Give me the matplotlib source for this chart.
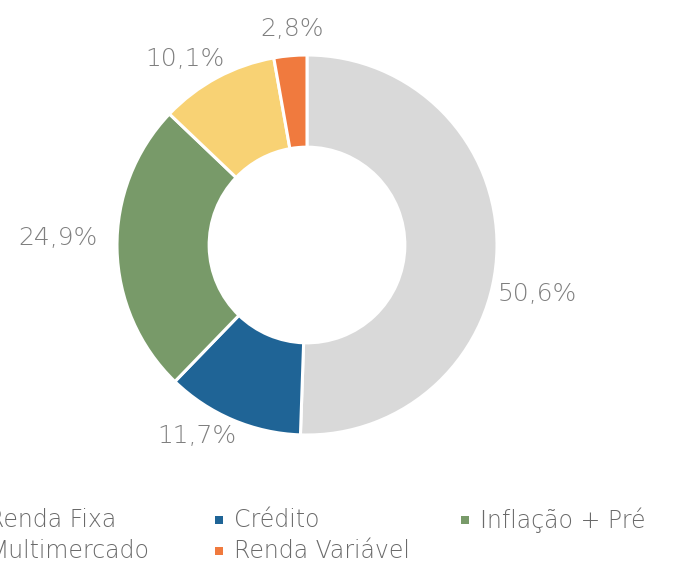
import matplotlib
matplotlib.use("Agg")
import matplotlib.pyplot as plt
from matplotlib.patches import Rectangle
import numpy as np

categories = ["Renda Fixa", "Crédito", "Inflação + Pré", "Multimercado", "Renda Variável"]
values = [50.6, 11.7, 24.9, 10.1, 2.8]
labels = ["50,6%", "11,7%", "24,9%", "10,1%", "2,8%"]
colors = ["#D9D9D9", "#1F6496", "#789A69", "#F8D274", "#F07A3E"]

# label placement (radius in units of outer radius, angle offset in degrees)
label_r = [1.24, 1.16, 1.31, 1.17, 1.14]
label_dtheta = [-11, -7, -2.8, 5, -1]

W, H = 674, 565
fig = plt.figure(figsize=(W / 100, H / 100), dpi=100)
cx, cy, R = 307, 245, 190
ax = fig.add_axes([(cx - R) / W, (H - cy - R) / H, 2 * R / W, 2 * R / H])
ax.axis("off")

wedges, _ = ax.pie(values, colors=colors, startangle=90, counterclock=False,
                   radius=1, wedgeprops=dict(width=0.485, edgecolor="white", linewidth=2.2))
ax.set_xlim(-1, 1)
ax.set_ylim(-1, 1)

font = ["DejaVu Sans"]
for w, lab, r, dt in zip(wedges, labels, label_r, label_dtheta):
    mid = np.deg2rad((w.theta1 + w.theta2) / 2 + dt)
    ax.text(r * np.cos(mid), r * np.sin(mid), lab, ha="center", va="center",
            fontsize=18, color="#7F7F7F", family=font, fontweight="light", clip_on=False)

# legend, 3 columns, equal column pitch
col_pitch = 246
x0 = -27
row_y = [520, 551]
for i, (cat, col) in enumerate(zip(categories, colors)):
    r, c = divmod(i, 3)
    mx = x0 + c * col_pitch
    my = row_y[r]
    fig.patches.append(Rectangle(((mx - 4) / W, (H - my - 4) / H), 8 / W, 8 / H,
                                 transform=fig.transFigure, facecolor=col, edgecolor="none"))
    fig.text((mx + 15) / W, (H - my) / H, cat, ha="left", va="center", fontsize=17,
             color="#6A6A6A", family=font, fontweight="light")

fig.savefig("out.png", dpi=100, facecolor="white")
